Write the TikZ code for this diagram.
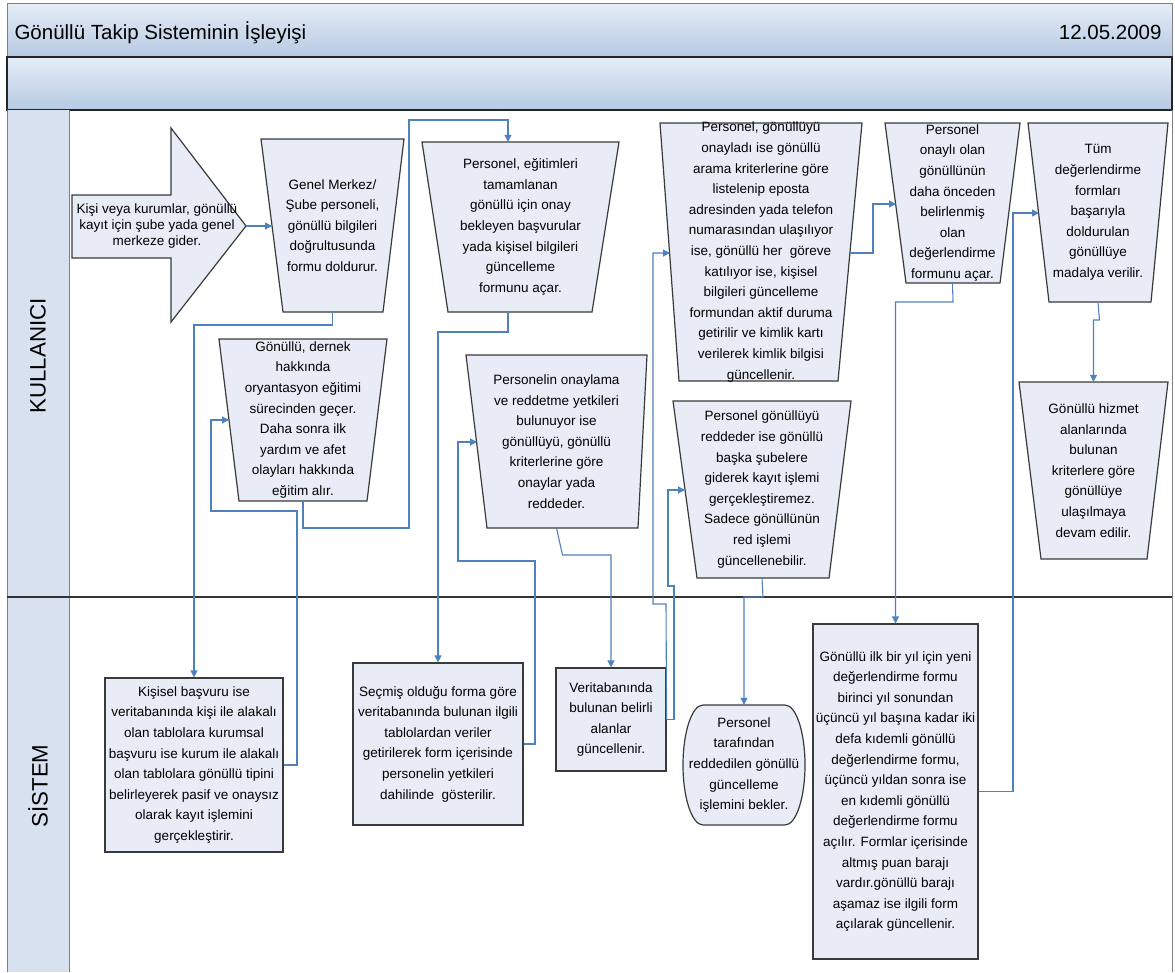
\documentclass[tikz,border=0pt]{standalone}
\usepackage{fontspec}
\setmainfont{Liberation Sans}
\usetikzlibrary{arrows.meta,calc}
\definecolor{connc}{HTML}{4F81BD}
\definecolor{boxfill}{HTML}{E8ECF6}
\definecolor{boxline}{HTML}{3A3A3A}
\definecolor{lanefill}{HTML}{D8E1EF}
\definecolor{bartop}{HTML}{E6EDF7}
\definecolor{barbot}{HTML}{B6CAE3}
\definecolor{frameline}{HTML}{808080}
\tikzset{
  shapebox/.style={draw=boxline, fill=boxfill, line width=1.2pt},
  txt/.style={align=center, inner sep=0pt, font=\fontsize{13.5}{20.6}\selectfont},
  conn/.style={draw=connc, line width=1.1pt, -{Triangle[length=7pt,width=7pt]}},
  lanetxt/.style={font=\fontsize{22.3}{26}\selectfont, rotate=90},
  bigtxt/.style={font=\fontsize{20.5}{24}\selectfont},
}
% #1 name, #2 x top-left, #3 x top-right, #4 y top, #5 x bottom-left, #6 x bottom-right, #7 y bottom, #8 text
\newcommand{\trapnode}[8]{%
  \filldraw[shapebox] (#2,#4) -- (#3,#4) -- (#6,#7) -- (#5,#7) -- cycle;
  \node[txt, minimum width={#3-#2}, minimum height={#7-#4}] (#1) at ({(#2+#3)/2},{(#4+#7)/2}) {#8};
}
\begin{document}
\begin{tikzpicture}[x=1pt,y=-1pt]
\useasboundingbox (0,0) rectangle (1175,972);
% title bar
\shade[top color=bartop, bottom color=barbot] (7,3) rectangle (1172,57);
\draw[frameline, line width=1pt] (7,3) rectangle (1172,57);
\node[bigtxt, anchor=base west] (title) at (11,39) {Gönüllü Takip Sisteminin İşleyişi};
\node[bigtxt, anchor=base east] (date) at (1165,39) {12.05.2009};
% second bar
\shade[top color=bartop, bottom color=barbot] (7,57) rectangle (1172,110);
\draw[black!85, line width=2pt] (7,57) rectangle (1172,110);
% lanes
\fill[lanefill] (7,110) rectangle (69,972);
\draw[frameline, line width=1pt] (7,110) -- (7,972) (69,110) -- (69,972) (1172,110) -- (1172,972);
\draw[black!80, line width=2pt] (7,597) -- (1172,597);
\node[lanetxt] (lane1) at (38,356) {KULLANICI};
\node[lanetxt] (lane2) at (38,786) {SİSTEM};

% block arrow
\filldraw[shapebox] (72,195) -- (171,195) -- (171,128) -- (246,226) -- (171,322) -- (171,258) -- (72,258) -- cycle;
\node[txt, font=\fontsize{13.5}{16}\selectfont] (a0) at (157,226) {Kişi veya kurumlar, gönüllü\\kayıt için şube yada genel\\merkeze gider.};
\coordinate (a0tip) at (246,226);

% trapezoids
\trapnode{t1}{261}{404}{139}{283}{383}{312}{\fontsize{13.5}{19.3}\selectfont Genel Merkez/\\Şube personeli,\\gönüllü bilgileri\\doğrultusunda\\formu doldurur.}
\trapnode{t2}{219}{387}{339}{239}{367}{501}{Gönüllü, dernek\\hakkında\\oryantasyon eğitimi\\sürecinden geçer.\\Daha sonra ilk\\yardım ve afet\\olayları hakkında\\eğitim alır.}
\trapnode{t3}{422}{619}{142}{448}{592}{312}{Personel, eğitimleri\\tamamlanan\\gönüllü için onay\\bekleyen başvurular\\yada kişisel bilgileri\\güncelleme\\formunu açar.}
\trapnode{t4}{466}{647}{355}{487}{638}{528}{Personelin onaylama\\ve reddetme yetkileri\\bulunuyor ise\\gönüllüyü, gönüllü\\kriterlerine göre\\onaylar yada\\reddeder.}
\trapnode{t5}{660}{862}{123}{679}{838}{381}{Personel, gönüllüyü\\onayladı ise gönüllü\\arama kriterlerine göre\\listelenip eposta\\adresinden yada telefon\\numarasından ulaşılıyor\\ise, gönüllü her\ \ göreve\\katılıyor ise, kişisel\\bilgileri güncelleme\\formundan aktif duruma\\getirilir ve kimlik kartı\\verilerek kimlik bilgisi\\güncellenir.}
\trapnode{t6}{673}{851}{401}{697}{829}{578}{Personel gönüllüyü\\reddeder ise gönüllü\\başka şubelere\\giderek kayıt işlemi\\gerçekleştiremez.\\Sadece gönüllünün\\red işlemi\\güncellenebilir.}
\trapnode{t7}{885}{1020}{123}{906}{1000}{283}{Personel\\onaylı olan\\gönüllünün\\daha önceden\\belirlenmiş\\olan\\değerlendirme\\formunu açar.}
\trapnode{t8}{1028}{1168}{123}{1049}{1151}{302}{Tüm\\değerlendirme\\formları\\başarıyla\\doldurulan\\gönüllüye\\madalya verilir.}
\trapnode{t9}{1019}{1168}{382}{1041}{1147}{559}{Gönüllü hizmet\\alanlarında\\bulunan\\kriterlere göre\\gönüllüye\\ulaşılmaya\\devam edilir.}

% rectangles
\node[shapebox, txt, minimum width=178pt, minimum height=174pt] (r1) at (194,765) {Kişisel başvuru ise\\veritabanında kişi ile alakalı\\olan tablolara kurumsal\\başvuru ise kurum ile alakalı\\olan tablolara gönüllü tipini\\belirleyerek pasif ve onaysız\\olarak kayıt işlemini\\gerçekleştirir.};
\node[shapebox, txt, minimum width=170pt, minimum height=162pt] (r2) at (438,744) {Seçmiş olduğu forma göre\\veritabanında bulunan ilgili\\tablolardan veriler\\getirilerek form içerisinde\\personelin yetkileri\\dahilinde\ \ gösterilir.};
\node[shapebox, txt, minimum width=110pt, minimum height=103pt] (r3) at (611,719.5) {Veritabanında\\bulunan belirli\\alanlar\\güncellenir.};
\node[shapebox, txt, minimum width=165pt, minimum height=335pt] (r4) at (895.5,791.5) {Gönüllü ilk bir yıl için yeni\\değerlendirme formu\\birinci yıl sonundan\\üçüncü yıl başına kadar iki\\defa kıdemli gönüllü\\değerlendirme formu,\\üçüncü yıldan sonra ise\\en kıdemli gönüllü\\değerlendirme formu\\açılır. Formlar içerisinde\\altmış puan barajı\\vardır.gönüllü barajı\\aşamaz ise ilgili form\\açılarak güncellenir.};

% rounded terminal
\filldraw[shapebox] (703,705) -- (785,705) arc[start angle=90, end angle=-90, x radius=20pt, y radius=60pt] -- (703,825) arc[start angle=270, end angle=90, x radius=20pt, y radius=60pt] -- cycle;
\node[txt, minimum width=122pt, minimum height=120pt] (e1) at (744,765) {Personel\\tarafından\\reddedilen gönüllü\\güncelleme\\işlemini bekler.};

% ports on slanted edges
\coordinate (t1in) at (272,226);
\coordinate (t2in) at (229,420);
\coordinate (t3in) at ($(t3.north)+(-12.5,0)$);
\coordinate (t3out) at ($(t3.south)+(-12.5,0)$);
\coordinate (t4in) at (477,442);
\coordinate (t5in) at (670,253);
\coordinate (t5out) at (850,253);
\coordinate (t6in) at (685,490);
\coordinate (t7in) at (896,204);
\coordinate (t8in) at (1039,213);

% connectors
\draw[conn] (a0tip) -- (t1in);
\draw[conn] (t1.south) -- (332.5,325) -- (194,325) -- (r1.north);
\draw[conn] (r1.east) -- (297,765) -- (297,511) -- (211,511) -- (211,420) -- (t2in);
\draw[conn] (t2.south) -- (303,528) -- (409,528) -- (409,120) -- (508,120) -- (t3in);
\draw[conn] (t3out) -- (508,332) -- (438,332) -- (r2.north);
\draw[conn] (r2.east) -- (535,744) -- (535,561) -- (458,561) -- (458,442) -- (t4in);
\draw[conn] (t4.south) -- (562.5,555) -- (611,555) -- (r3.north);
\draw[conn] (r3.east) -- (666,604) -- (653,604) -- (653,253) -- (t5in);
\draw[conn] (r3.east) -- (674,719.5) -- (674,586) -- (668,586) -- (668,490) -- (t6in);
\draw[conn] (t6.south) -- (763,597) -- (744,597) -- (e1.north);
\draw[conn] (t5out) -- (873,253) -- (873,204) -- (t7in);
\draw[conn] (t7.south) -- (953,302) -- (895.5,302) -- (r4.north);
\draw[conn] (r4.east) -- (1013,791.5) -- (1013,213) -- (t8in);
\draw[conn] (t8.south) -- (1099.5,320) -- (1093.5,320) -- (t9.north);
\end{tikzpicture}
\end{document}
